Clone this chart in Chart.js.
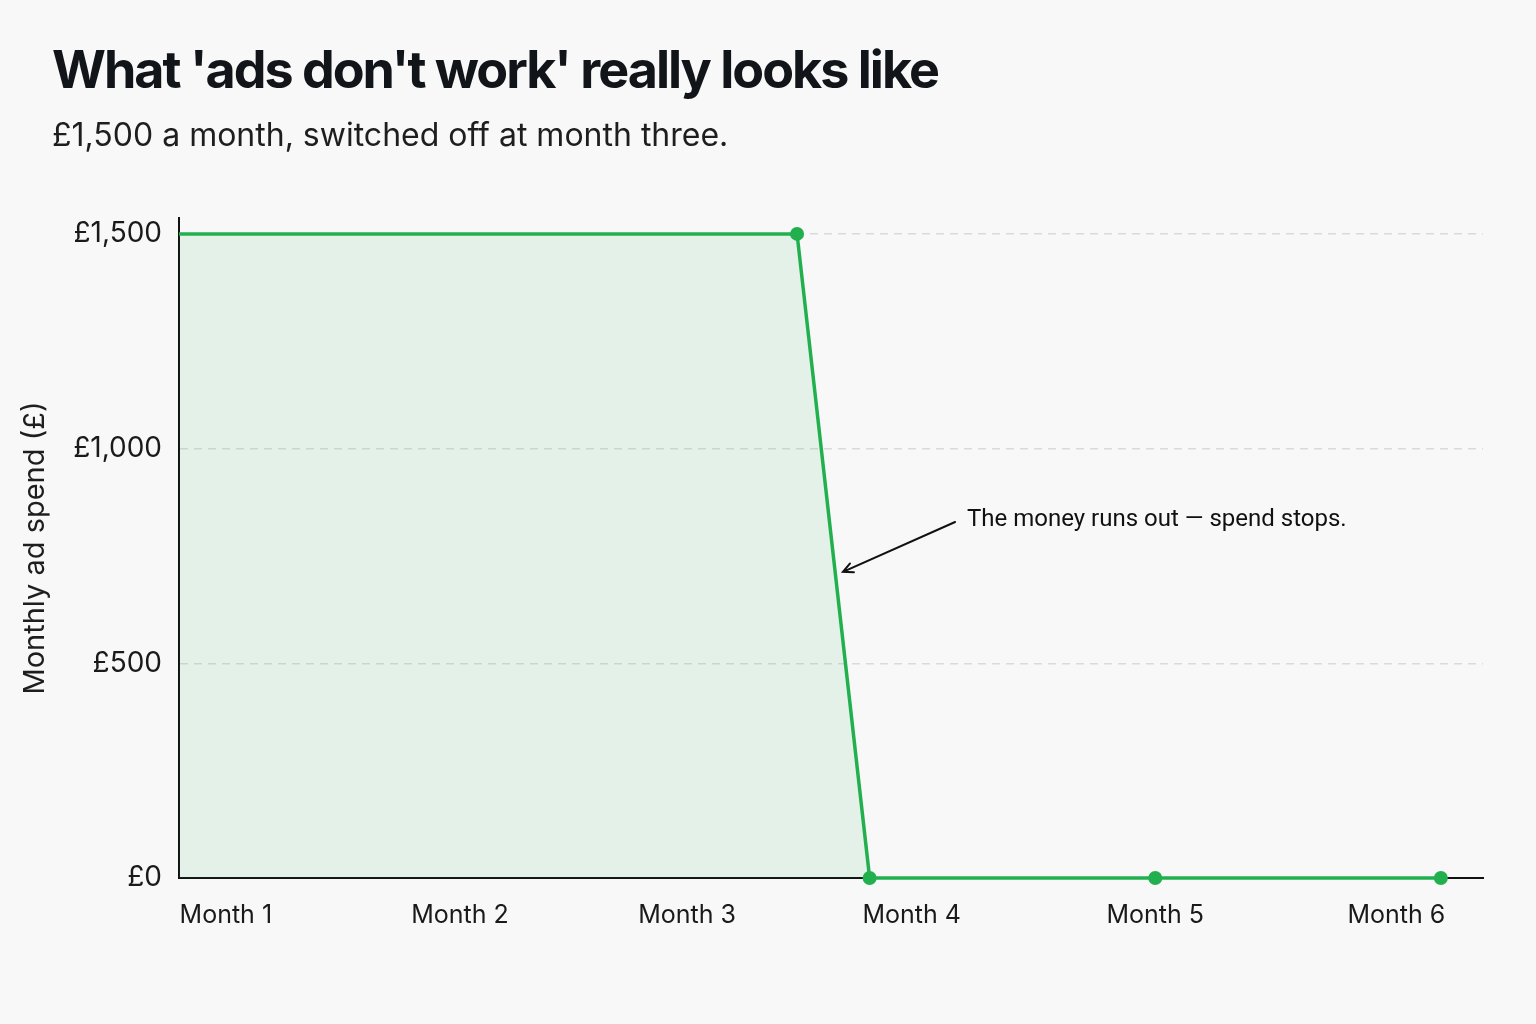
<!DOCTYPE html>
<html>
<head>
<meta charset="utf-8">
<script src="https://cdn.jsdelivr.net/npm/chart.js@4/dist/chart.umd.min.js"></script>
<style>
  html, body { margin: 0; padding: 0; background: #f8f8f8; }
  #wrap { width: 1536px; height: 1024px; position: relative; }
</style>
</head>
<body>
<div id="wrap"><canvas id="c" width="1536" height="1024"></canvas></div>
<script>
// ---- data ----
const chartTitle = "What 'ads don't work' really looks like";
const chartSubtitle = "£1,500 a month, switched off at month three.";
const yAxisTitle = "Monthly ad spend (£)";
const monthLabels = ['Month 1', 'Month 2', 'Month 3', 'Month 4', 'Month 5', 'Month 6'];
const monthTickValues = [1, 2, 2.97, 3.93, 4.97, 6];
const spendX = [0.8, 3.44, 3.75, 4.97, 6.19];
const spendValues = [1500, 1500, 0, 0, 0];
const yTickValues = [0, 500, 1000, 1500];
const annotationText = 'The money runs out — spend stops.';
const annotationAt = { x: 4.166, y: 834 };
const arrowFrom = { x: 4.115, y: 829 };
const arrowTo = { x: 3.636, y: 713 };

const GREEN = '#22b04f';
const FONT = 'Inter, "Noto Sans", "DejaVu Sans", sans-serif';

const points = spendX.map((x, i) => ({ x: x, y: spendValues[i] }));

const bgPlugin = {
  id: 'bg',
  beforeDraw(chart) {
    const ctx = chart.ctx;
    ctx.save();
    ctx.fillStyle = '#f8f8f8';
    ctx.fillRect(0, 0, chart.width, chart.height);
    ctx.restore();
  }
};

const headerPlugin = {
  id: 'header',
  afterDraw(chart) {
    const ctx = chart.ctx;
    ctx.save();
    ctx.textAlign = 'left';
    ctx.textBaseline = 'alphabetic';
    ctx.fillStyle = '#111418';
    ctx.font = '700 52px ' + FONT;
    if ('letterSpacing' in ctx) ctx.letterSpacing = '-2px';
    ctx.fillText(chartTitle, 52, 88);
    if ('letterSpacing' in ctx) ctx.letterSpacing = '0px';
    ctx.fillStyle = '#1e1e1e';
    ctx.font = '400 32px ' + FONT;
    ctx.fillText(chartSubtitle, 52, 146);
    ctx.restore();
  }
};

const annotationPlugin = {
  id: 'annot',
  afterDatasetsDraw(chart) {
    const ctx = chart.ctx;
    const xs = chart.scales.x, ys = chart.scales.y;
    const tx = xs.getPixelForValue(annotationAt.x);
    const ty = ys.getPixelForValue(annotationAt.y);
    const x1 = xs.getPixelForValue(arrowFrom.x), y1 = ys.getPixelForValue(arrowFrom.y);
    const x2 = xs.getPixelForValue(arrowTo.x), y2 = ys.getPixelForValue(arrowTo.y);
    ctx.save();
    ctx.fillStyle = '#111';
    ctx.font = '400 24px Roboto, ' + FONT;
    ctx.textAlign = 'left';
    ctx.textBaseline = 'middle';
    ctx.fillText(annotationText, tx, ty);
    ctx.strokeStyle = '#111';
    ctx.lineWidth = 2;
    ctx.lineCap = 'round';
    ctx.beginPath();
    ctx.moveTo(x1, y1);
    ctx.lineTo(x2, y2);
    const ang = Math.atan2(y2 - y1, x2 - x1);
    const L = 11, spread = 0.45;
    ctx.moveTo(x2 - L * Math.cos(ang - spread), y2 - L * Math.sin(ang - spread));
    ctx.lineTo(x2, y2);
    ctx.lineTo(x2 - L * Math.cos(ang + spread), y2 - L * Math.sin(ang + spread));
    ctx.stroke();
    ctx.restore();
  }
};

new Chart(document.getElementById('c'), {
  type: 'line',
  data: {
    datasets: [{
      data: points,
      borderColor: GREEN,
      borderWidth: 3.5,
      backgroundColor: 'rgba(34,176,79,0.09)',
      fill: 'origin',
      tension: 0,
      clip: false,
      pointRadius: (c) => c.dataIndex === 0 ? 0 : 7,
      pointHoverRadius: 7,
      pointBackgroundColor: GREEN,
      pointBorderColor: GREEN,
      pointBorderWidth: 0
    }]
  },
  options: {
    responsive: false,
    animation: false,
    events: [],
    layout: { padding: { left: 0, right: 53, top: 218, bottom: 0 } },
    plugins: {
      legend: { display: false },
      tooltip: { enabled: false },
      title: { display: false }
    },
    scales: {
      x: {
        type: 'linear',
        min: 0.8,
        max: 6.37,
        afterBuildTicks: (s) => { s.ticks = monthTickValues.map(v => ({ value: v })); },
        afterFit: (s) => { s.height = 1024 - 878; },
        grid: { display: false, drawTicks: false },
        border: { display: true, color: '#111', width: 2 },
        ticks: {
          autoSkip: false,
          maxRotation: 0,
          padding: 22,
          color: '#1a1a1a',
          font: { family: FONT, size: 25 },
          callback: (v) => {
            const i = monthTickValues.indexOf(v);
            return i >= 0 ? monthLabels[i] : '';
          }
        }
      },
      y: {
        min: 0,
        max: 1537,
        afterBuildTicks: (s) => { s.ticks = yTickValues.map(v => ({ value: v })); },
        afterFit: (s) => { s.width = 179; },
        grid: {
          drawTicks: false,
          color: (c) => c.tick && c.tick.value === 0 ? 'rgba(0,0,0,0)' : '#dadada',
          lineWidth: 1.5
        },
        border: { display: true, color: '#111', width: 2, dash: [8, 6] },
        ticks: {
          padding: 17,
          color: '#1a1a1a',
          font: { family: FONT, size: 28 },
          callback: (v) => '£' + Number(v).toLocaleString('en-GB')
        },
        title: {
          display: true,
          text: yAxisTitle,
          color: '#1e1e1e',
          font: { family: FONT, size: 29 },
          padding: { top: 18, bottom: 0 }
        }
      }
    }
  },
  plugins: [bgPlugin, headerPlugin, annotationPlugin]
});
</script>
</body>
</html>
